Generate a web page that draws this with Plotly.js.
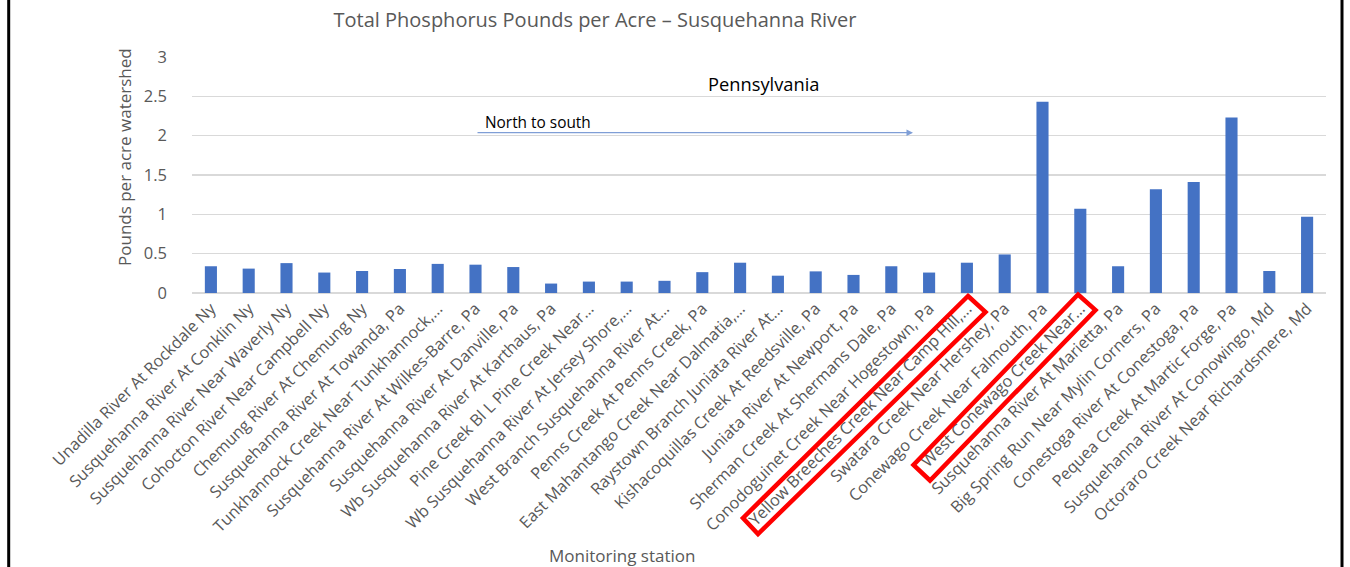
<!DOCTYPE html>
<html>
<head>
<meta charset="utf-8">
<script src="https://cdn.plot.ly/plotly-3.0.1.min.js"></script>
<style>
html,body{margin:0;padding:0;background:#fff;}
#chart{width:1350px;height:567px;}
</style>
</head>
<body>
<div id="chart"></div>
<script>
const stations = [
  "Unadilla River At Rockdale Ny",
  "Susquehanna River At Conklin Ny",
  "Susquehanna River Near Waverly Ny",
  "Cohocton River Near Campbell Ny",
  "Chemung River At Chemung Ny",
  "Susquehanna River At Towanda, Pa",
  "Tunkhannock Creek Near Tunkhannock,…",
  "Susquehanna River At Wilkes-Barre, Pa",
  "Susquehanna River At Danville, Pa",
  "Wb Susquehanna River At Karthaus, Pa",
  "Pine Creek Bl L Pine Creek Near…",
  "Wb Susquehanna River At Jersey Shore,…",
  "West Branch Susquehanna River At…",
  "Penns Creek At Penns Creek, Pa",
  "East Mahantango Creek Near Dalmatia,…",
  "Raystown Branch Juniata River At…",
  "Kishacoquillas Creek At Reedsville, Pa",
  "Juniata River At Newport, Pa",
  "Sherman Creek At Shermans Dale, Pa",
  "Conodoguinet Creek Near Hogestown, Pa",
  "Yellow Breeches Creek Near Camp Hill,…",
  "Swatara Creek Near Hershey, Pa",
  "Conewago Creek Near Falmouth, Pa",
  "West Conewago Creek Near…",
  "Susquehanna River At Marietta, Pa",
  "Big Spring Run Near Mylin Corners, Pa",
  "Conestoga River At Conestoga, Pa",
  "Pequea Creek At Martic Forge, Pa",
  "Susquehanna River At Conowingo, Md",
  "Octoraro Creek Near Richardsmere, Md"
];
const poundsPerAcre = [
  0.34, 0.31, 0.38, 0.26, 0.28, 0.305, 0.37, 0.36, 0.33, 0.12,
  0.145, 0.145, 0.155, 0.265, 0.385, 0.22, 0.275, 0.23, 0.34, 0.26,
  0.385, 0.49, 2.43, 1.07, 0.34, 1.32, 1.41, 2.23, 0.28, 0.97
];
const yTicks = [0, 0.5, 1, 1.5, 2, 2.5, 3];
const yTickText = ["0", "0.5", "1", "1.5", "2", "2.5", "3"];

const W = 1350, H = 567;
const M = {l: 192, r: 24, t: 57, b: 274};
const plotW = W - M.l - M.r, plotH = H - M.t - M.b;
const px = x => (x - M.l) / plotW;
const py = y => (H - M.b - y) / plotH;

function boxPath(pts){
  return 'M ' + pts.map(p => px(p[0]) + ',' + py(p[1])).join(' L ') + ' Z';
}

const font = "Open Sans, Noto Sans, Liberation Sans, sans-serif";
const grey = "#595959";

const trace = {
  type: 'bar',
  x: stations,
  y: poundsPerAcre,
  marker: {color: '#4472C4'},
  hoverinfo: 'x+y'
};

const layout = {
  width: W, height: H,
  margin: M,
  paper_bgcolor: '#fff',
  plot_bgcolor: '#fff',
  showlegend: false,
  bargap: 0.68,
  font: {family: font, color: grey},
  title: {
    text: 'Total Phosphorus Pounds per Acre – Susquehanna River',
    font: {family: font, size: 20, color: grey},
    xref: 'paper', x: px(595), xanchor: 'center',
    yref: 'container', y: 1 - 20/H, yanchor: 'middle'
  },
  xaxis: {
    type: 'category',
    tickangle: -45,
    tickfont: {family: font, size: 16.3, color: grey},
    showgrid: false,
    showline: false,
    ticks: '',
    ticklabelstandoff: 2,
    automargin: false
  },
  yaxis: {
    range: [0, 3],
    tickvals: yTicks,
    ticktext: yTickText,
    tickfont: {family: font, size: 16.5, color: grey},
    gridcolor: '#D9D9D9',
    gridwidth: 1.5,
    zeroline: true,
    zerolinecolor: '#D9D9D9',
    zerolinewidth: 1.5,
    showline: false,
    ticks: '',
    ticklabelstandoff: 24,
    automargin: false
  },
  annotations: [
    {text: 'Pounds per acre watershed', textangle: -90, xref: 'paper', yref: 'paper',
     x: px(124), y: py(157), showarrow: false, xanchor: 'center', yanchor: 'middle',
     font: {family: font, size: 17, color: grey}},
    {text: 'Monitoring station', xref: 'paper', yref: 'paper',
     x: px(622), y: py(555), showarrow: false, xanchor: 'center', yanchor: 'middle',
     font: {family: font, size: 17, color: grey}},
    {text: 'Pennsylvania', xref: 'paper', yref: 'paper',
     x: px(763), y: py(83), showarrow: false, xanchor: 'center', yanchor: 'middle',
     font: {family: font, size: 18.3, color: '#000'}},
    {text: 'North to south', xref: 'paper', yref: 'paper',
     x: px(538), y: py(122), showarrow: false, xanchor: 'center', yanchor: 'middle',
     font: {family: font, size: 15.4, color: '#000'}},
    {text: '', xref: 'paper', yref: 'paper', x: px(913), y: py(132.7),
     showarrow: true, axref: 'pixel', ayref: 'pixel', ax: -(913 - 476), ay: 0,
     arrowhead: 2, arrowsize: 1, arrowwidth: 1.3, arrowcolor: '#7F9ED6', standoff: 0}
  ],
  shapes: [
    {type: 'path', xref: 'paper', yref: 'paper', layer: 'above',
     path: boxPath([[968,296],[985.5,312],[758,534],[743,518]]),
     line: {color: '#FF0000', width: 4.5}},
    {type: 'path', xref: 'paper', yref: 'paper', layer: 'above',
     path: boxPath([[1078,294.5],[1095.5,310],[930,480.5],[913.5,465]]),
     line: {color: '#FF0000', width: 4.5}},
    {type: 'line', xref: 'paper', yref: 'paper', x0: px(8.7), x1: px(8.7), y0: py(0), y1: py(567),
     line: {color: '#000', width: 3}},
    {type: 'line', xref: 'paper', yref: 'paper', x0: px(1342), x1: px(1342), y0: py(0), y1: py(567),
     line: {color: '#000', width: 3}}
  ]
};

Plotly.newPlot('chart', [trace], layout, {displayModeBar: false, staticPlot: true});
</script>
</body>
</html>
